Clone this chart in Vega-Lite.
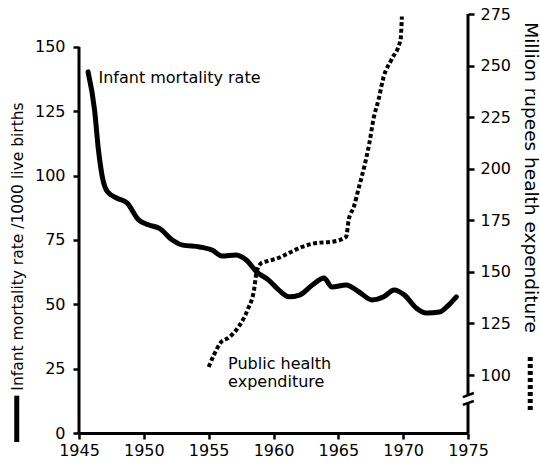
{
  "$schema": "https://vega.github.io/schema/vega-lite/v6.json",
  "width": 389,
  "height": 419,
  "autosize": "none",
  "padding": {"left": 79, "top": 14, "right": 72, "bottom": 33},
  "background": "white",
  "config": {
    "view": {"stroke": null},
    "font": "DejaVu Sans",
    "axis": {
      "grid": false,
      "labelColor": "black",
      "labelFontSize": 16,
      "tickColor": "black",
      "domainColor": "black",
      "titleColor": "black",
      "titleFontWeight": "normal",
      "titleFontSize": 16
    }
  },
  "datasets": {
    "mortality": [
      {"year": 1945.7, "rate": 140.3},
      {"year": 1946.2, "rate": 125.5},
      {"year": 1946.5, "rate": 110},
      {"year": 1946.8, "rate": 99.5},
      {"year": 1947.2, "rate": 93.7},
      {"year": 1947.9, "rate": 91.3},
      {"year": 1948.7, "rate": 89.4},
      {"year": 1949.6, "rate": 82.8},
      {"year": 1950.4, "rate": 80.8},
      {"year": 1951.2, "rate": 79.5},
      {"year": 1952.2, "rate": 75},
      {"year": 1953.0, "rate": 73},
      {"year": 1954.3, "rate": 72.3},
      {"year": 1955.3, "rate": 71},
      {"year": 1956.0, "rate": 68.8},
      {"year": 1957.1, "rate": 69.2},
      {"year": 1957.9, "rate": 67.2},
      {"year": 1958.7, "rate": 62.6},
      {"year": 1959.6, "rate": 59.5},
      {"year": 1960.4, "rate": 55.6},
      {"year": 1961.2, "rate": 52.9},
      {"year": 1962.0, "rate": 53.6},
      {"year": 1963.0, "rate": 57.5},
      {"year": 1963.9, "rate": 60.2},
      {"year": 1964.5, "rate": 56.7},
      {"year": 1965.6, "rate": 57.5},
      {"year": 1966.6, "rate": 54.8},
      {"year": 1967.6, "rate": 51.7},
      {"year": 1968.5, "rate": 52.9},
      {"year": 1969.3, "rate": 55.6},
      {"year": 1970.1, "rate": 53.6},
      {"year": 1971.0, "rate": 48.6},
      {"year": 1971.8, "rate": 46.6},
      {"year": 1972.8, "rate": 47},
      {"year": 1973.5, "rate": 49.7},
      {"year": 1974.1, "rate": 52.9}
    ],
    "expenditure": [
      {"year": 1955.0, "rupees": 103.9},
      {"year": 1955.4, "rupees": 109.7},
      {"year": 1955.9, "rupees": 115.5},
      {"year": 1956.6, "rupees": 118.4},
      {"year": 1957.3, "rupees": 123.3},
      {"year": 1958.0, "rupees": 131.6},
      {"year": 1958.5, "rupees": 141.3},
      {"year": 1958.7, "rupees": 150},
      {"year": 1959.1, "rupees": 154.4},
      {"year": 1959.6, "rupees": 155.3},
      {"year": 1960.4, "rupees": 156.8},
      {"year": 1961.2, "rupees": 159.2},
      {"year": 1962.2, "rupees": 162.1},
      {"year": 1963.3, "rupees": 164},
      {"year": 1964.5, "rupees": 164.6},
      {"year": 1965.6, "rupees": 167},
      {"year": 1965.8, "rupees": 175.2},
      {"year": 1966.2, "rupees": 181.6},
      {"year": 1966.6, "rupees": 191.3},
      {"year": 1967.0, "rupees": 201},
      {"year": 1967.4, "rupees": 212.6},
      {"year": 1967.7, "rupees": 223.8},
      {"year": 1968.1, "rupees": 233.5},
      {"year": 1968.5, "rupees": 244.7},
      {"year": 1969.1, "rupees": 252.9},
      {"year": 1969.8, "rupees": 262.6},
      {"year": 1969.9, "rupees": 273.8}
    ],
    "labelsLeft": [
      {"year": 1946.5, "rate": 138, "label": "Infant mortality rate"},
      {"year": 1956.5, "rate": 26.8, "label": ["Public health", "expenditure"]}
    ],
    "one": [{}]
  },
  "layer": [
    {
      "data": {"name": "mortality"},
      "mark": {"type": "line", "color": "black", "strokeWidth": 5, "interpolate": "monotone", "strokeCap": "round"},
      "encoding": {
        "x": {
          "field": "year", "type": "quantitative",
          "scale": {"domain": [1945, 1975], "nice": false, "zero": false},
          "axis": {
            "orient": "bottom",
            "values": [1945, 1950, 1955, 1960, 1965, 1970, 1975],
            "format": "d",
            "title": null,
            "domainWidth": 3,
            "tickWidth": 2.5,
            "tickSize": 6,
            "labelPadding": 3,
            "labelFlush": false
          }
        },
        "y": {
          "field": "rate", "type": "quantitative",
          "scale": {"domain": [0, 162.8], "nice": false, "zero": false},
          "axis": {
            "orient": "left",
            "values": [0, 25, 50, 75, 100, 125, 150],
            "domain": false,
            "tickSize": 6,
            "tickWidth": 2.5,
            "labelPadding": 8,
            "title": "Infant mortality rate /1000 live births",
            "titleFontSize": 15.5,
            "titleAngle": -90,
            "titleX": -62,
            "titleY": 232,
            "titleAlign": "center",
            "titleBaseline": "middle"
          }
        }
      }
    },
    {
      "data": {"name": "expenditure"},
      "mark": {"type": "line", "color": "black", "strokeWidth": 4, "interpolate": "monotone", "strokeDash": [4, 2.5], "strokeCap": "butt"},
      "encoding": {
        "x": {"field": "year", "type": "quantitative", "axis": null, "scale": {"domain": [1945, 1975], "nice": false, "zero": false}},
        "y": {
          "field": "rupees", "type": "quantitative",
          "scale": {"domain": [71.9, 275], "nice": false, "zero": false},
          "axis": {
            "orient": "right",
            "values": [100, 125, 150, 175, 200, 225, 250, 275],
            "domain": false,
            "tickSize": 6,
            "tickWidth": 2.5,
            "labelPadding": 6,
            "title": "Million rupees health expenditure",
            "titleFontSize": 18.5,
            "titleAngle": 90,
            "titleX": 62,
            "titleY": 163,
            "titleAlign": "center",
            "titleBaseline": "middle"
          }
        }
      }
    },
    {
      "data": {"name": "one"},
      "mark": {"type": "rule", "color": "black", "strokeWidth": 3},
      "encoding": {
        "x": {"datum": 1945, "type": "quantitative", "axis": null, "scale": {"domain": [1945, 1975], "nice": false, "zero": false}},
        "y": {"datum": 0, "type": "quantitative", "axis": null, "scale": {"domain": [0, 162.8], "nice": false, "zero": false}},
        "y2": {"datum": 150}
      }
    },
    {
      "data": {"name": "one"},
      "mark": {"type": "rule", "color": "black", "strokeWidth": 5, "strokeCap": "butt"},
      "encoding": {
        "x": {"datum": 1940.2, "type": "quantitative", "axis": null, "scale": {"domain": [1945, 1975], "nice": false, "zero": false}},
        "y": {"datum": -3.5, "type": "quantitative", "axis": null, "scale": {"domain": [0, 162.8], "nice": false, "zero": false}},
        "y2": {"datum": 14.5}
      }
    },
    {
      "data": {"name": "labelsLeft"},
      "mark": {"type": "text", "align": "left", "baseline": "middle", "fontSize": 16, "color": "black", "lineHeight": 17.5},
      "encoding": {
        "x": {"field": "year", "type": "quantitative", "axis": null, "scale": {"domain": [1945, 1975], "nice": false, "zero": false}},
        "y": {"field": "rate", "type": "quantitative", "axis": null, "scale": {"domain": [0, 162.8], "nice": false, "zero": false}},
        "text": {"field": "label"}
      }
    },
    {
      "data": {"name": "one"},
      "mark": {"type": "rule", "color": "black", "strokeWidth": 5, "strokeDash": [4, 3], "strokeCap": "butt"},
      "encoding": {
        "x": {"datum": 1979.8, "type": "quantitative", "axis": null, "scale": {"domain": [1945, 1975], "nice": false, "zero": false}},
        "y": {"datum": 83, "type": "quantitative", "axis": null, "scale": {"domain": [71.9, 275], "nice": false, "zero": false}},
        "y2": {"datum": 109}
      }
    },
    {
      "data": {"name": "one"},
      "mark": {"type": "rule", "color": "black", "strokeWidth": 3},
      "encoding": {
        "x": {"datum": 1975, "type": "quantitative", "axis": null, "scale": {"domain": [1945, 1975], "nice": false, "zero": false}},
        "y": {"datum": 90.3, "type": "quantitative", "axis": null, "scale": {"domain": [71.9, 275], "nice": false, "zero": false}},
        "y2": {"datum": 275}
      }
    },
    {
      "data": {"name": "one"},
      "mark": {"type": "rule", "color": "black", "strokeWidth": 3},
      "encoding": {
        "x": {"datum": 1975, "type": "quantitative", "axis": null, "scale": {"domain": [1945, 1975], "nice": false, "zero": false}},
        "y": {"datum": 71.9, "type": "quantitative", "axis": null, "scale": {"domain": [71.9, 275], "nice": false, "zero": false}},
        "y2": {"datum": 86.5}
      }
    },
    {
      "data": {"name": "one"},
      "mark": {"type": "rule", "color": "black", "strokeWidth": 2.5},
      "encoding": {
        "x": {"datum": 1974.6, "type": "quantitative", "axis": null, "scale": {"domain": [1945, 1975], "nice": false, "zero": false}},
        "x2": {"datum": 1975.45},
        "y": {"datum": 89.3, "type": "quantitative", "axis": null, "scale": {"domain": [71.9, 275], "nice": false, "zero": false}},
        "y2": {"datum": 91.3}
      }
    },
    {
      "data": {"name": "one"},
      "mark": {"type": "rule", "color": "black", "strokeWidth": 2.5},
      "encoding": {
        "x": {"datum": 1974.6, "type": "quantitative", "axis": null, "scale": {"domain": [1945, 1975], "nice": false, "zero": false}},
        "x2": {"datum": 1975.45},
        "y": {"datum": 85.5, "type": "quantitative", "axis": null, "scale": {"domain": [71.9, 275], "nice": false, "zero": false}},
        "y2": {"datum": 87.4}
      }
    }
  ],
  "resolve": {"scale": {"y": "independent"}, "axis": {"x": "independent"}}
}
